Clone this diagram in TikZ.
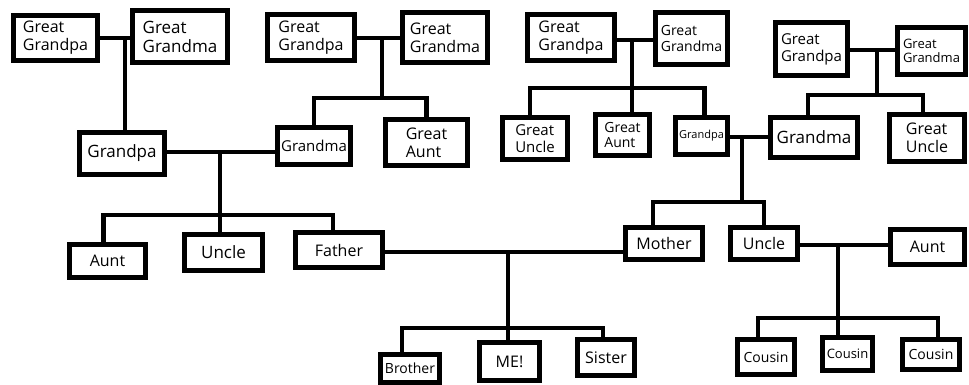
\documentclass[tikz,border=0pt]{standalone}
\usepackage{fontspec}
\setmainfont{Open Sans}
\usetikzlibrary{calc}
\tikzset{
  person/.style={draw=black, line width=5pt, fill=white, inner sep=0pt, align=left, font=\fontsize{#1}{\the\dimexpr #1pt*112/100\relax}\selectfont},
  person/.default=16,
  link/.style={line width=4.5pt, line cap=rect},
}
\begin{document}
\begin{tikzpicture}[x=1pt,y=-1pt]
\useasboundingbox (0,0) rectangle (969,385);
% top generation
\node[person=16, minimum width=84pt, minimum height=45pt] (GGpa1) at (55.5,38) {Great\\Grandpa};
\node[person=17, minimum width=95pt, minimum height=52pt] (GGma1) at (180,36.5) {Great\\Grandma};
\node[person=16, minimum width=87pt, minimum height=46pt] (GGpa2) at (311,37.5) {Great\\Grandpa};
\node[person=16, minimum width=85pt, minimum height=50pt] (GGma2) at (445,37.5) {Great\\Grandma};
\node[person=16, minimum width=87pt, minimum height=46pt] (GGpa3) at (571,37.5) {Great\\Grandpa};
\node[person=14, minimum width=72pt, minimum height=52pt] (GGma3) at (691.5,38.5) {Great\\Grandma};
\node[person=15, minimum width=72pt, minimum height=53pt] (GGpa4) at (811.5,49) {Great\\Grandpa};
\node[person=13, minimum width=68pt, minimum height=47pt] (GGma4) at (931.5,51) {Great\\Grandma};
% grandparents generation
\node[person=17, minimum width=85pt, minimum height=42pt] (Grandpa1) at (122,153.5) {Grandpa};
\node[person=15, minimum width=73pt, minimum height=37pt] (Grandma1) at (314,146) {Grandma};
\node[person=16, minimum width=82pt, minimum height=46pt] (GreatAunt1) at (426.5,142.5) {Great\\Aunt};
\node[person=15, minimum width=65pt, minimum height=42pt] (GreatUncle1) at (535,138.5) {Great\\Uncle};
\node[person=14, minimum width=54pt, minimum height=41pt] (GreatAunt2) at (622.5,135) {Great\\Aunt};
\node[person=11, minimum width=52pt, minimum height=37pt] (Grandpa2) at (701.5,136) {Grandpa};
\node[person=17, minimum width=87pt, minimum height=40pt] (Grandma2) at (814,137.5) {Grandma};
\node[person=16, minimum width=75pt, minimum height=47pt] (GreatUncle2) at (927,138) {Great\\Uncle};
% parents generation
\node[person=16, minimum width=76pt, minimum height=33pt] (Aunt1) at (107.5,261) {Aunt};
\node[person=17, minimum width=78pt, minimum height=36pt] (Uncle1) at (223.5,252.5) {Uncle};
\node[person=16, minimum width=87pt, minimum height=35pt] (Father) at (339,250) {Father};
\node[person=16, minimum width=77pt, minimum height=32pt] (Mother) at (664,243.5) {Mother};
\node[person=16, minimum width=67pt, minimum height=32pt] (Uncle2) at (764,243.5) {Uncle};
\node[person=16, minimum width=74pt, minimum height=35pt] (Aunt2) at (927.5,247) {Aunt};
% children generation
\node[person=14, minimum width=59pt, minimum height=28pt] (Brother) at (410,368.5) {Brother};
\node[person=16, minimum width=60pt, minimum height=38pt] (Me) at (509.5,361.5) {ME!};
\node[person=16, minimum width=57pt, minimum height=36pt] (Sister) at (606,357.5) {Sister};
\node[person=14, minimum width=57pt, minimum height=35pt] (Cousin1) at (766,357) {Cousin};
\node[person=13, minimum width=50pt, minimum height=33pt] (Cousin2) at (847.5,354) {Cousin};
\node[person=14, minimum width=57pt, minimum height=30pt] (Cousin3) at (931,354.5) {Cousin};
% couple junctions and sibling bars
\coordinate (m1) at (125,38);
\coordinate (m2) at (382,38);
\coordinate (b2) at (382,98);
\coordinate (m3) at (632,40);
\coordinate (b3) at (632,88);
\coordinate (m4) at (877,50);
\coordinate (b4) at (877,95);
\coordinate (p1) at (220,152);
\coordinate (q1) at (220,215);
\coordinate (p2) at (742,137);
\coordinate (q2) at (742,202);
\coordinate (p3) at (508,252);
\coordinate (q3) at (508,328);
\coordinate (p4) at (838,245);
\coordinate (q4) at (838,318);
% family 1
\draw[link] (GGpa1.east |- m1) -- (GGma1.west |- m1);
\draw[link] (m1) -- (m1 |- Grandpa1.north);
% family 2
\draw[link] (GGpa2.east |- m2) -- (GGma2.west |- m2);
\draw[link] (m2) -- (b2);
\draw[link] (Grandma1.north) |- (b2) -| (GreatAunt1.north);
% family 3
\draw[link] (GGpa3.east |- m3) -- (GGma3.west |- m3);
\draw[link] (m3) -- (m3 |- GreatAunt2.north);
\draw[link] ([xshift=-5pt]GreatUncle1.north) |- (b3) -| ([xshift=3pt]Grandpa2.north);
% family 4
\draw[link] (GGpa4.east |- m4) -- (GGma4.west |- m4);
\draw[link] (m4) -- (b4);
\draw[link] ([xshift=-6pt]Grandma2.north) |- (b4) -| ([xshift=-4pt]GreatUncle2.north);
% grandparents 1
\draw[link] (Grandpa1.east |- p1) -- (Grandma1.west |- p1);
\draw[link] (p1) -- (p1 |- Uncle1.north);
\draw[link] ([xshift=-4pt]Aunt1.north) |- (q1) -| ([xshift=-6pt]Father.north);
% grandparents 2
\draw[link] (Grandpa2.east |- p2) -- (Grandma2.west |- p2);
\draw[link] (p2) -- (q2);
\draw[link] ([xshift=-11pt]Mother.north) |- (q2) -| (Uncle2.north);
% parents
\draw[link] (Father.east |- p3) -- (Mother.west |- p3);
\draw[link] (p3) -- (p3 |- Me.north);
\draw[link] ([xshift=-8pt]Brother.north) |- (q3) -| ([xshift=-3pt]Sister.north);
% uncle and aunt
\draw[link] (Uncle2.east |- p4) -- (Aunt2.west |- p4);
\draw[link] (p4) -- (p4 |- Cousin2.north);
\draw[link] ([xshift=-8pt]Cousin1.north) |- (q4) -| ([xshift=7pt]Cousin3.north);
\end{tikzpicture}
\end{document}
